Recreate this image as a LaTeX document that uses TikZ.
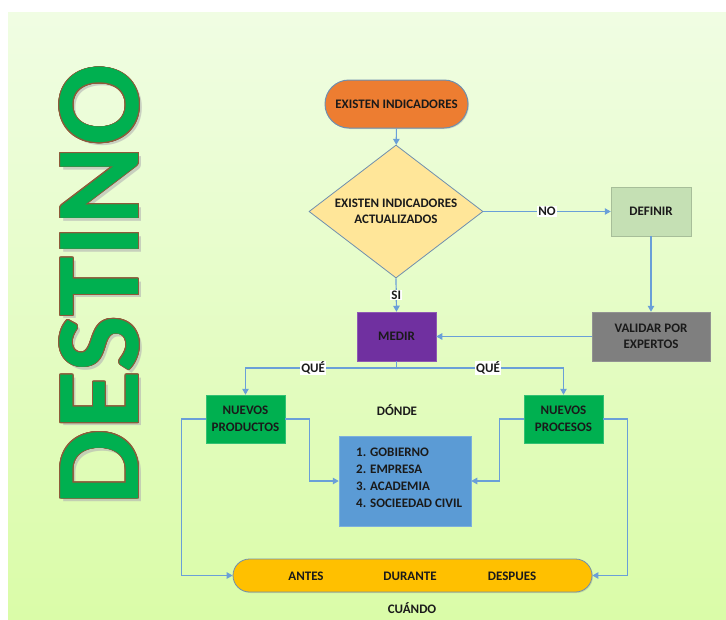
\documentclass[tikz,border=0pt]{standalone}
\usepackage{fontspec}
\setmainfont{Carlito}
\usepackage[copies]{contour}
\usetikzlibrary{shapes.geometric,arrows.meta,shadows}
\definecolor{bgtop}{HTML}{F0FDE3}
\definecolor{bgbot}{HTML}{DAFCA8}
\definecolor{arrowc}{HTML}{6A9FD8}
\definecolor{edgec}{HTML}{6F8FAF}
\definecolor{orangef}{HTML}{ED7D31}
\definecolor{diamf}{HTML}{FFE699}
\definecolor{definf}{HTML}{C5E0B4}
\definecolor{validf}{HTML}{7F7F7F}
\definecolor{medirf}{HTML}{7030A0}
\definecolor{greenf}{HTML}{00B050}
\definecolor{bluef}{HTML}{5B9BD5}
\definecolor{yellowf}{HTML}{FFC000}
\definecolor{brownc}{HTML}{8E5A3A}
\definecolor{textc}{HTML}{1A1A1A}
\begin{document}
\begin{tikzpicture}[x=1pt,y=-1pt,
  every node/.style={font=\fontsize{13}{16.5}\selectfont\bfseries, text=textc},
  boxstyle/.style={rectangle, inner sep=0pt, align=center, drop shadow={shadow xshift=1pt, shadow yshift=-1pt, opacity=0.25}},
  arr/.style={draw=arrowc, line width=1.2pt, -{Triangle[length=6pt,width=6.5pt]}},
  ln/.style={draw=arrowc, line width=1.2pt},
  lbl/.style={fill=white, inner sep=1pt}
]
\useasboundingbox (0,0) rectangle (726,619);
\shade[top color=bgtop, bottom color=bgbot] (8,12) rectangle (726,619);

% DESTINO title
\node[rotate=90, font=\fontsize{120}{120}\selectfont\bfseries, text=gray!60, opacity=0.6] (shadowt) at (103,288) {DESTINO};
\node[rotate=90, font=\fontsize{120}{120}\selectfont\bfseries, text=greenf] (titulo) at (100,285) {\contourlength{0.9pt}\contour{brownc}{DESTINO}};

% nodes
\node[boxstyle, fill=orangef, draw=edgec, line width=1pt, minimum width=143pt, minimum height=48pt, rounded corners=24pt] (start) at (396.5,104) {EXISTEN INDICADORES};
\node[diamond, shape aspect=1.31, fill=diamf, draw=edgec, line width=0.8pt, minimum width=174pt, minimum height=133pt, inner sep=0pt, align=center] (dec) at (396,211.5) {EXISTEN INDICADORES\\ACTUALIZADOS};
\node[boxstyle, fill=definf, draw=definf!85!black, line width=0.5pt, minimum width=80pt, minimum height=49pt] (definir) at (651,211.5) {DEFINIR};
\node[boxstyle, fill=validf, draw=validf!85!white, line width=0.5pt, minimum width=118pt, minimum height=49pt] (validar) at (651,336.5) {VALIDAR POR\\EXPERTOS};
\node[boxstyle, fill=medirf, draw=medirf!80!white, line width=0.5pt, minimum width=79pt, minimum height=49pt] (medir) at (396.5,336.5) {MEDIR};
\node[boxstyle, fill=greenf, draw=greenf!80!white, line width=0.5pt, minimum width=79pt, minimum height=48pt] (nprod) at (245.5,419) {NUEVOS\\PRODUCTOS};
\node[boxstyle, fill=greenf, draw=greenf!80!white, line width=0.5pt, minimum width=79pt, minimum height=48pt] (nproc) at (563.5,419) {NUEVOS\\PROCESOS};
\node[boxstyle, fill=bluef, draw=bluef!80!white, line width=0.5pt, minimum width=132pt, minimum height=90pt] (actores) at (405,481) {};
\node[anchor=north west, align=left, inner sep=0pt, font=\fontsize{13}{17}\selectfont\bfseries] (lista) at (356,448) {1. GOBIERNO\\2. EMPRESA\\3. ACADEMIA\\4. SOCIEEDAD CIVIL};
\node[boxstyle, fill=yellowf, draw=edgec, line width=0.8pt, minimum width=359pt, minimum height=33pt, rounded corners=16.5pt] (tiempo) at (412.5,575.5) {};
\node (antes) at (306,576) {ANTES};
\node (durante) at (410,576) {DURANTE};
\node (despues) at (512,576) {DESPUES};
\node (donde) at (397,410) {DÓNDE};
\node (cuando) at (412,608) {CUÁNDO};

% connectors
\draw[arr] (start) -- (dec);
\draw[arr] (dec.east) -- node[lbl] (nolbl) {NO} (definir.west);
\draw[arr] (dec.south) -- node[lbl, pos=0.5] (silbl) {SI} (medir.north);
\draw[arr] (definir) -- (validar);
\draw[arr] (validar) -- (medir);
\coordinate (junc) at (medir.south |- 0,368);
\draw[ln] (medir.south) -- (junc);
\draw[arr] (junc) -| node[lbl, pos=0.276] (que1) {QUÉ} (nprod.north);
\draw[arr] (junc) -| node[lbl, pos=0.274] (que2) {QUÉ} (nproc.north);
\draw[arr] (nprod.west) -- ++(-24,0) |- (tiempo.west);
\draw[arr] (nprod.east) -- ++(24,0) |- (actores.west);
\draw[arr] (nproc.west) -- ++(-24,0) |- (actores.east);
\draw[arr] (nproc.east) -- ++(24,0) |- (tiempo.east);
\end{tikzpicture}
\end{document}
